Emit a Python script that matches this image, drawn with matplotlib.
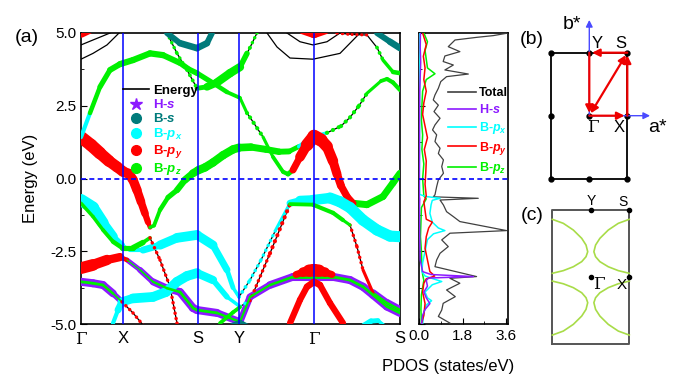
import matplotlib
matplotlib.use('Agg')
import matplotlib.pyplot as plt
from matplotlib.collections import LineCollection
from matplotlib.lines import Line2D
from matplotlib.ticker import MultipleLocator, FormatStrFormatter

plt.rcParams['font.family'] = ['Liberation Sans', 'DejaVu Sans']
plt.rcParams['mathtext.fontset'] = 'custom'
plt.rcParams['mathtext.rm'] = 'Liberation Sans:bold'
plt.rcParams['mathtext.it'] = 'Liberation Sans:italic:bold'
plt.rcParams['mathtext.bf'] = 'Liberation Sans:bold'

# high-symmetry path (k distance along the path)
kpath_labels = ['Γ', 'X', 'S', 'Y', 'Γ', 'S']
kpath_pos = [0, 42, 117, 158, 233, 319]

# bands: (k, E, orbital, weight); orbital 'k' = plain line, 'pg' = H-s around B-pz
band_c1 = [(0, 1.42, 'r', 9), (10, 1.15, 'r', 9), (19, 0.87, 'r', 9), (28, 0.6, 'r', 8),
           (36, 0.4, 'r', 8), (42, 0.24, 'r', 7.5), (48, 0.16, 'r', 7), (52, -0.05, 'r', 7),
           (56, -0.4, 'r', 6.5), (60, -0.8, 'r', 6), (64, -1.2, 'r', 5), (67, -1.5, 'r', 4),
           (69, -1.68, 'g', 2.5), (73, -1.62, 'g', 2.5), (79, -1.08, 'g', 3), (87, -0.65, 'g', 3.5),
           (96, -0.4, 'g', 4), (104, -0.05, 'g', 5), (112, 0.18, 'g', 5.5), (117, 0.28, 'g', 6),
           (124, 0.38, 'g', 6), (132, 0.55, 'g', 6), (142, 0.8, 'g', 6), (152, 1.0, 'g', 6),
           (158, 1.06, 'g', 6), (170, 1.08, 'g', 5), (185, 1.0, 'g', 5), (198, 0.92, 'g', 4.5),
           (208, 0.93, 'g', 4), (218, 1.1, 'c', 3), (226, 1.3, 'c', 3), (233, 1.44, 'c', 3),
           (246, 1.57, 'g', 2), (260, 1.8, 'g', 2), (269, 2.1, 'g', 2), (278, 2.5, 'g', 2),
           (286, 2.93, 'g', 2), (300, 3.35, 'g', 2.5), (306, 3.42, 'g', 3), (312, 3.3, 'g', 3),
           (319, 3.04, 'g', 3)]
band_c2 = [(0, 1.42, 'c', 3), (9, 2.25, 'g', 3), (19, 3.15, 'g', 3.5), (29, 3.73, 'g', 4),
           (39, 3.93, 'g', 4.5), (52, 4.07, 'g', 4.5), (69, 4.3, 'g', 4.5), (82, 4.24, 'g', 4.5),
           (99, 3.97, 'g', 4), (108, 3.75, 'g', 4), (116, 3.62, 'g', 4), (132, 3.28, 'g', 3.5),
           (146, 2.97, 'g', 3), (159, 2.77, 'g', 2.5), (166, 2.25, 'g', 2), (169, 2.1, 'g', 2),
           (182, 1.43, 'g', 2), (192, 0.74, 'g', 2.5), (202, 0.23, 'g', 3), (207, 0.15, 'g', 3),
           (212, 0.29, 'r', 4), (219, 0.74, 'r', 6), (226, 1.15, 'r', 8), (233, 1.45, 'r', 10),
           (240, 1.32, 'r', 9), (246, 1.1, 'r', 8), (252, 0.6, 'r', 7), (256, 0.15, 'r', 6),
           (260, -0.25, 'r', 5.5), (266, -0.62, 'r', 5), (272, -0.85, 'g', 5), (286, -0.9, 'g', 5),
           (302, -0.62, 'g', 5), (312, -0.15, 'g', 5), (319, 0.18, 'g', 5)]
band_c3 = [(86, 5.0, 'g', 1.5), (96, 4.3, 'g', 1.5), (106, 3.73, 'g', 1.5), (116, 3.1, 'g', 2),
           (126, 3.15, 'g', 5), (136, 3.3, 'g', 6), (149, 3.62, 'g', 6), (159, 3.83, 'g', 6),
           (166, 4.3, 'g', 2), (169, 4.5, 'g', 1.5), (176, 5.0, 'g', 1.5)]
band_c4 = [(86, 5.0, 't', 4), (99, 4.65, 't', 4.5), (116, 4.48, 't', 5), (126, 4.65, 't', 4.5),
           (131, 5.0, 't', 4)]
band_c5 = [(296, 5.0, 't', 4), (309, 4.7, 't', 4.5), (319, 4.48, 't', 5)]
band_c6 = [(256, 5.0, 'r', 1.5), (271, 4.95, 'r', 1.5), (286, 4.93, 'k', 1), (296, 4.5, 'g', 1.5),
           (302, 4.07, 'g', 2), (312, 3.66, 'g', 3), (319, 3.62, 'g', 3.5)]
band_c7 = [(0, 4.59, 'k', 1), (12, 4.76, 'k', 1), (22, 4.9, 'k', 1), (29, 5.0, 'k', 1)]
band_c8 = [(0, 4.1, 'k', 1), (12, 4.3, 'k', 1), (26, 4.59, 'k', 1), (36, 4.93, 'k', 1),
           (38, 5.0, 'k', 1)]
band_c9 = [(186, 5.0, 'k', 1), (196, 4.52, 'k', 1), (209, 4.14, 'k', 1), (232, 4.1, 'k', 1),
           (259, 4.3, 'k', 1), (279, 5.0, 'k', 1)]
band_c10 = [(206, 5.0, 'k', 1), (219, 4.7, 'k', 1), (232, 4.59, 'k', 1), (246, 4.7, 'k', 1),
            (259, 5.0, 'k', 1)]
band_c11 = [(222, 5.12, 'r', 6), (233, 4.99, 'r', 8), (244, 5.12, 'r', 6)]
band_c12 = [(0, 4.99, 'r', 7), (8, 5.12, 'r', 6)]

band_v1 = [(0, -0.74, 'c', 9), (12, -1.0, 'c', 8.5), (22, -1.53, 'c', 8), (32, -2.0, 'c', 6),
           (41, -2.29, 'c', 3), (49, -2.46, 'c', 2), (62, -2.46, 'c', 4), (79, -2.29, 'c', 6),
           (96, -2.04, 'c', 7), (116, -1.94, 'c', 7), (132, -2.29, 'c', 6), (146, -3.14, 'c', 4),
           (152, -3.75, 'c', 3), (158, -4.07, 'c', 2), (169, -3.49, 'c', 1.5), (180, -2.8, 'c', 1.5),
           (195, -1.75, 'c', 1.5), (209, -0.85, 'c', 3), (219, -0.76, 'c', 7), (232, -0.74, 'c', 7),
           (249, -0.67, 'c', 8), (259, -0.8, 'c', 8), (269, -1.0, 'c', 8), (282, -1.43, 'c', 8),
           (296, -1.77, 'c', 8), (309, -1.98, 'c', 8), (319, -2.0, 'c', 8)]
band_v2 = [(0, -0.85, 'g', 2.5), (12, -1.31, 'g', 2.5), (22, -1.77, 'g', 2.5), (32, -2.17, 'g', 3),
           (41, -2.38, 'g', 3.5), (52, -2.38, 'g', 4), (62, -2.2, 'g', 4), (69, -2.04, 'r', 1.5),
           (79, -2.8, 'r', 1.5), (89, -3.72, 'r', 1.5), (96, -4.97, 'r', 1.5), (97, -5.1, 'r', 1.5)]
band_v3 = [(32, -4.97, 'c', 2), (37, -4.52, 'c', 4), (41, -4.24, 'c', 6), (52, -4.12, 'c', 7),
           (72, -4.07, 'c', 7), (85, -3.9, 'c', 7), (96, -3.55, 'c', 7), (106, -3.35, 'c', 7),
           (116, -3.25, 'c', 7), (132, -3.49, 'c', 5), (146, -4.07, 'c', 3), (159, -4.4, 'c', 2),
           (169, -4.2, 'r', 1.5), (189, -2.57, 'r', 1.5), (209, -0.88, 'g', 2.5), (232, -0.9, 'g', 3),
           (252, -1.18, 'g', 3), (262, -1.43, 'g', 3), (269, -1.6, 'r', 1.5), (276, -2.35, 'r', 1.5),
           (282, -3.14, 'r', 1.5), (292, -3.93, 'pg', 3), (306, -4.28, 'pg', 4), (319, -4.52, 'pg', 4)]
band_v4 = [(0, -3.08, 'r', 9), (12, -2.97, 'r', 8), (26, -2.8, 'r', 7), (39, -2.7, 'r', 5),
           (46, -2.8, 'pg', 1.5), (59, -3.14, 'pg', 2), (72, -3.55, 'pg', 3), (86, -3.77, 'pg', 3.5),
           (99, -3.9, 'pg', 4), (112, -4.45, 'pg', 4), (116, -4.52, 'pg', 4), (136, -4.62, 'pg', 4),
           (159, -4.93, 'pg', 3), (169, -4.07, 'pg', 3), (189, -3.66, 'pg', 3.5), (212, -3.38, 'pg', 4),
           (233, -3.38, 'pg', 4), (252, -3.38, 'pg', 4), (269, -3.49, 'pg', 4), (282, -3.72, 'pg', 4),
           (292, -4.0, 'pg', 4), (306, -4.4, 'pg', 4), (319, -4.62, 'pg', 4)]
band_v5 = [(0, -3.55, 'pg', 4), (12, -3.6, 'pg', 4), (22, -3.66, 'pg', 4), (32, -3.95, 'pg', 3.5),
           (41, -4.24, 'r', 1.5), (52, -4.62, 'r', 1.5), (66, -5.2, 'r', 1.5)]
band_v6 = [(215, -3.3, 'r', 4), (222, -3.22, 'r', 6), (228, -3.17, 'r', 8), (233, -3.15, 'r', 10),
           (238, -3.17, 'r', 8), (244, -3.22, 'r', 6), (251, -3.3, 'r', 4)]
band_v7 = [(209, -4.97, 'r', 4.5), (219, -4.17, 'r', 4.5), (226, -3.72, 'r', 4.5), (233, -3.55, 'r', 5),
           (239, -3.66, 'r', 4.5), (249, -4.28, 'r', 4.5), (262, -4.97, 'r', 4.5)]
band_v8 = [(139, -4.97, 'g', 2.5), (152, -4.6, 'g', 3), (159, -4.42, 'g', 2.5)]
band_v9 = [(150, -5.08, 't', 4), (159, -4.95, 't', 4), (166, -5.08, 't', 4)]
band_v10 = [(283, -5.05, 'c', 4), (290, -4.9, 'c', 4), (297, -4.88, 'c', 3), (303, -5.05, 'c', 2)]

bands = [band_c1, band_c2, band_c3, band_c4, band_c5, band_c6, band_c7, band_c8, band_c9,
         band_c10, band_c11, band_c12, band_v1, band_v2, band_v3, band_v4, band_v5, band_v6,
         band_v7, band_v8, band_v9, band_v10]

# projected DOS (states/eV) against energy (eV)
tot_E = [5.0, 4.91, 4.85, 4.76, 4.53, 4.36, 4.21, 4.02, 3.9, 3.73, 3.59, 3.5, 3.33, 3.1, 2.87,
         2.7, 2.52, 2.3, 2.07, 1.84, 1.67, 1.5, 1.27, 1.04, 0.86, 0.64, 0.41, 0.18, -0.05, -0.28,
         -0.56, -0.63, -0.68, -0.74, -0.91, -1.14, -1.31, -1.48, -1.79, -1.88, -2.11, -2.34,
         -2.57, -2.8, -3.03, -3.37, -3.43, -3.6, -3.83, -4.06, -4.29, -4.52, -4.74, -4.97]
tot = [3.69, 3.07, 2.38, 1.49, 1.21, 1.69, 1.07, 1.0, 1.42, 1.07, 2.04, 1.14, 0.9, 0.8, 0.66,
       0.59, 0.8, 0.62, 0.87, 0.66, 0.56, 0.73, 0.66, 0.87, 0.8, 1.01, 0.94, 1.01, 0.8, 0.73,
       0.66, 0.59, 2.45, 0.87, 1.01, 1.14, 1.42, 1.69, 3.62, 1.28, 0.94, 1.21, 0.87, 0.73, 0.66,
       2.38, 1.28, 1.69, 1.14, 1.5, 1.0, 0.94, 0.8, 1.28]
hs_E = [5.0, 4.5, 4.0, 3.5, 3.0, 2.0, 1.0, 0.0, -0.6, -0.7, -1.0, -2.0, -2.8, -3.2, -3.3, -3.37,
        -3.42, -3.5, -3.7, -3.9, -4.1, -4.3, -4.5, -4.7, -5.0]
hs = [0.06, 0.05, 0.07, 0.05, 0.03, 0.02, 0.02, 0.01, 0.01, 0.03, 0.02, 0.03, 0.05, 0.15, 0.5,
      2.25, 0.4, 0.3, 0.35, 0.2, 0.3, 0.45, 0.25, 0.15, 0.1]
px_E = [5.0, 4.0, 3.0, 2.0, 1.0, 0.0, -0.55, -0.62, -0.68, -0.75, -0.9, -1.2, -1.5, -1.7, -1.79,
        -1.9, -2.1, -2.5, -2.9, -3.2, -3.35, -3.45, -3.54, -3.65, -3.9, -4.1, -4.2, -4.35, -4.6, -5.0]
px = [0.02, 0.03, 0.02, 0.02, 0.02, 0.02, 0.03, 0.3, 0.87, 0.55, 0.5, 0.45, 0.55, 0.8, 1.07,
      0.6, 0.35, 0.25, 0.15, 0.12, 0.25, 0.6, 0.94, 0.55, 0.25, 0.35, 0.52, 0.3, 0.2, 0.15]
py_E = [5.0, 4.6, 4.2, 3.8, 3.4, 3.0, 2.6, 2.2, 1.8, 1.4, 1.0, 0.6, 0.2, -0.2, -0.6, -0.8, -1.1,
        -1.4, -1.5, -1.7, -2.0, -2.4, -2.8, -3.2, -3.35, -3.45, -3.6, -3.9, -4.3, -4.7, -5.0]
py = [0.15, 0.3, 0.18, 0.25, 0.2, 0.3, 0.2, 0.15, 0.25, 0.35, 0.22, 0.3, 0.28, 0.25, 0.3, 0.2,
      0.25, 0.3, 0.55, 0.4, 0.3, 0.25, 0.35, 0.45, 0.65, 0.3, 0.2, 0.15, 0.25, 0.2, 0.1]
pz_E = [5.0, 4.7, 4.4, 4.1, 3.8, 3.6, 3.4, 3.0, 2.5, 2.0, 1.5, 1.0, 0.5, 0.0, -0.6, -0.7, -1.0,
        -1.5, -2.0, -2.5, -3.0, -3.3, -3.5, -4.0, -4.5, -5.0]
pz = [0.2, 0.35, 0.25, 0.3, 0.35, 0.66, 0.3, 0.15, 0.12, 0.1, 0.15, 0.12, 0.2, 0.15, 0.2, 0.3,
      0.1, 0.08, 0.06, 0.1, 0.12, 0.15, 0.2, 0.1, 0.08, 0.1]

# Brillouin zone corners / path and a Fermi-surface branch (upper-left quadrant)
bz_dots_x = [-0.5, 0, 0.5, -0.5, 0, 0.5, -0.5, 0, 0.5]
bz_dots_y = [0.5, 0.5, 0.5, 0, 0, 0, -0.5, -0.5, -0.5]
fs_kx = [-0.5, -0.357, -0.227, -0.118, -0.062, -0.04, -0.062, -0.118, -0.227, -0.357, -0.5]
fs_ky = [0.432, 0.402, 0.352, 0.29, 0.24, 0.19, 0.153, 0.116, 0.078, 0.049, 0.029]

C = {'r': '#ff0000', 'g': '#00f000', 'c': '#00ffff', 'p': '#8c1aff', 't': '#007b7b', 'k': 'black'}
BLUE = '#0000ff'

W, H = 674, 375
fig = plt.figure(figsize=(W / 100, H / 100), dpi=100)


def box(l, t, r, b):
    return [l / W, 1 - b / H, (r - l) / W, (b - t) / H]


ax = fig.add_axes(box(81, 33, 400, 324))
axd = fig.add_axes(box(419, 33, 508, 324))
axb = fig.add_axes(box(525, 8, 674, 190))
axc = fig.add_axes(box(525, 195, 674, 372))


def draw_band(pts):
    ax.plot([p[0] for p in pts], [p[1] for p in pts], color='black', lw=0.9, zorder=3)
    groups = {}
    for a, b in zip(pts[:-1], pts[1:]):
        orb, w = a[2], (a[3] + b[3]) / 2
        if orb == 'k':
            continue
        seg = [(a[0], a[1]), (b[0], b[1])]
        if orb == 'pg':
            parts = [('p', w + 1.8, False, 4), ('g', w * 0.5, False, 5)]
        else:
            parts = [(orb, w, w <= 2, 5)]
        for col, lw, dotted, z in parts:
            g = groups.setdefault((col, dotted, z), ([], []))
            g[0].append(seg)
            g[1].append(lw + 1.0 if dotted else lw)
    for (col, dotted, z), (segs, lws) in groups.items():
        ls = (0, (0.05, 1.5)) if dotted else 'solid'
        lc = LineCollection(segs, colors=C[col], linewidths=lws, linestyles=ls,
                            capstyle='round', joinstyle='round', zorder=z)
        ax.add_collection(lc)


for b in bands:
    draw_band(b)

for k in kpath_pos[1:-1]:
    ax.axvline(k, color=BLUE, lw=1.1, zorder=6)
ax.axhline(0, color=BLUE, lw=1.2, ls=(0, (3, 2)), zorder=6)
ax.set_xlim(kpath_pos[0], kpath_pos[-1])
ax.set_ylim(-5, 5)
ax.set_xticks(kpath_pos)
ax.set_xticklabels(kpath_labels, fontsize=12)
for t, s in zip(ax.get_xticklabels(), kpath_labels):
    if s == 'Γ':
        t.set_fontfamily('DejaVu Serif')
ax.tick_params(axis='x', length=0, pad=5)
ax.yaxis.set_major_locator(MultipleLocator(2.5))
ax.yaxis.set_minor_locator(MultipleLocator(1.25))
ax.yaxis.set_major_formatter(FormatStrFormatter('%.1f'))
ax.tick_params(axis='y', which='both', direction='in', labelsize=11, length=4)
ax.tick_params(axis='y', which='minor', length=2.5)
ax.set_ylabel('Energy (eV)', fontsize=12, labelpad=9)
for s in ax.spines.values():
    s.set_linewidth(1.2)

leg_handles = [Line2D([], [], color='black', lw=1.2),
               Line2D([], [], ls='', marker='*', ms=9, color=C['p']),
               Line2D([], [], ls='', marker='o', ms=7, color=C['t']),
               Line2D([], [], ls='', marker='o', ms=7, color=C['c']),
               Line2D([], [], ls='', marker='o', ms=7, color=C['r']),
               Line2D([], [], ls='', marker='o', ms=7, color=C['g'])]
leg_labels = ['Energy', 'H-$s$', 'B-$s$', 'B-$p_x$', 'B-$p_y$', 'B-$p_z$']
leg = ax.legend(leg_handles, leg_labels, loc='upper left', bbox_to_anchor=(0.115, 0.84),
                frameon=False, handlelength=2.0, handletextpad=0.3,
                labelspacing=0.08, borderaxespad=0, prop={'weight': 'bold', 'size': 9.5},
                labelcolor=['black', C['p'], C['t'], C['c'], C['r'], C['g']])
leg.set_zorder(10)

# PDOS panel
axd.plot(tot, tot_E, color='#404040', lw=0.9, zorder=3)
axd.plot(pz, pz_E, color=C['g'], lw=1.1, zorder=4)
axd.plot(py, py_E, color=C['r'], lw=1.1, zorder=5)
axd.plot(px, px_E, color=C['c'], lw=1.1, zorder=4)
axd.plot(hs, hs_E, color=C['p'], lw=1.1, zorder=5)
axd.axhline(0, color=BLUE, lw=1.2, ls=(0, (3, 2)), zorder=6)
axd.set_xlim(0, 3.68)
axd.set_ylim(-5, 5)
axd.xaxis.set_major_locator(MultipleLocator(1.8))
axd.xaxis.set_minor_locator(MultipleLocator(0.9))
axd.xaxis.set_major_formatter(FormatStrFormatter('%.1f'))
axd.yaxis.set_major_locator(MultipleLocator(2.5))
axd.yaxis.set_minor_locator(MultipleLocator(1.25))
axd.tick_params(which='both', direction='in', labelsize=11, length=4)
axd.tick_params(which='minor', length=2.5)
axd.tick_params(axis='y', labelleft=False)
axd.set_xlabel('PDOS (states/eV)', fontsize=12, labelpad=5)
axd.xaxis.set_label_coords(0.33, -0.12)
for s in axd.spines.values():
    s.set_linewidth(1.2)
dos_handles = [Line2D([], [], color=c, lw=1.2) for c in ['#404040', C['p'], C['c'], C['r'], C['g']]]
dleg = axd.legend(dos_handles, ['Total', 'H-$s$', 'B-$p_x$', 'B-$p_y$', 'B-$p_z$'],
                  loc='upper left', bbox_to_anchor=(0.27, 0.83), frameon=False,
                  handlelength=2.2, handletextpad=0.3, labelspacing=0.3, borderaxespad=0,
                  prop={'weight': 'bold', 'size': 9},
                  labelcolor=['black', C['p'], C['c'], C['r'], C['g']])
dleg.set_zorder(10)

# (b) first Brillouin zone with the band path
axb.set_xlim((525 - 589.3) / 76, (674 - 589.3) / 76)
axb.set_ylim((115.7 - 190) / 126, (115.7 - 8) / 126)
axb.axis('off')
axb.plot([-0.5, 0.5, 0.5, -0.5, -0.5], [-0.5, -0.5, 0.5, 0.5, -0.5], color='black', lw=1.3)
axb.plot(bz_dots_x, bz_dots_y, 'o', color='black', ms=3.5)
arr_b = dict(arrowstyle='-|>', color='#4a4aff', lw=1.0, mutation_scale=10, shrinkA=0, shrinkB=0)
axb.annotate('', xy=(0, 0.76), xytext=(0, 0), arrowprops=arr_b)
axb.annotate('', xy=(0.8, 0), xytext=(0, 0), arrowprops=arr_b)
arr_r = dict(arrowstyle='-|>', color='#ee0000', lw=1.6, mutation_scale=11, shrinkA=0, shrinkB=2)
path_pts = [(0, 0), (0.5, 0), (0.5, 0.5), (0, 0.5), (0, 0)]
for p0, p1 in zip(path_pts[:-1], path_pts[1:]):
    axb.annotate('', xy=p1, xytext=p0, arrowprops=arr_r)
axb.annotate('', xy=(0.5, 0.5), xytext=(0, 0),
             arrowprops=dict(arrowstyle='<|-|>', color='#ee0000', lw=1.6, mutation_scale=11,
                             shrinkA=2, shrinkB=2))
axb.text(-0.23, 0.72, 'b*', fontsize=14, ha='center', va='center')
axb.text(0.9, -0.09, 'a*', fontsize=14, ha='center', va='center')
axb.text(0.1, 0.575, 'Y', fontsize=12, ha='center', va='center')
axb.text(0.41, 0.575, 'S', fontsize=12, ha='center', va='center')
axb.text(0.05, -0.095, 'Γ', fontsize=12, ha='center', va='center', family='DejaVu Serif')
axb.text(0.39, -0.095, 'X', fontsize=12, ha='center', va='center')

# (c) Fermi surface
axc.set_xlim((525 - 590.8) / 77, (674 - 590.8) / 77)
axc.set_ylim((277.2 - 372) / 134, (277.2 - 195) / 134)
axc.axis('off')
axc.plot([-0.5, 0.5, 0.5, -0.5, -0.5], [-0.5, -0.5, 0.5, 0.5, -0.5], color='#555555', lw=1.4)
for sx in (1, -1):
    for sy in (1, -1):
        axc.plot([sx * -v for v in fs_kx], [sy * v for v in fs_ky], color='#a8dc48', lw=1.2)
axc.plot([0, 0, 0.5, 0.5], [0, 0.5, 0.5, 0], 'o', color='black', ms=3)
axc.text(0.01, 0.565, 'Y', fontsize=10, ha='center', va='center')
axc.text(0.42, 0.56, 'S', fontsize=10, ha='center', va='center')
axc.text(0.1, -0.055, 'Γ', fontsize=12, ha='center', va='center', family='DejaVu Serif')
axc.text(0.4, -0.06, 'X', fontsize=11, ha='center', va='center')

fig.text(27 / W, 1 - 38 / H, '(a)', fontsize=14, ha='center', va='center')
fig.text(532 / W, 1 - 40 / H, '(b)', fontsize=14, ha='center', va='center')
fig.text(532 / W, 1 - 215 / H, '(c)', fontsize=14, ha='center', va='center')

fig.savefig('out.png', dpi=100)
